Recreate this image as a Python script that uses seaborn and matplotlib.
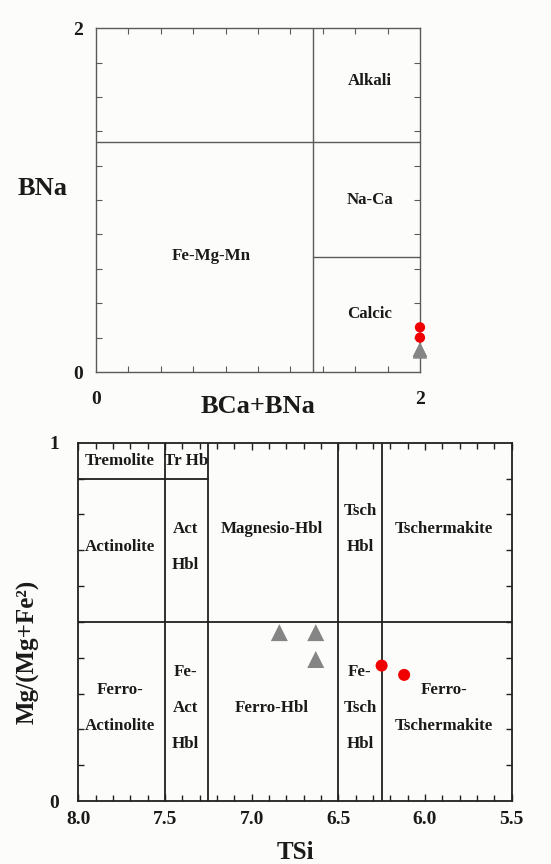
import numpy as np
import pandas as pd
import seaborn as sns
import matplotlib.pyplot as plt
from matplotlib.ticker import MultipleLocator, FixedLocator

sns.set_theme(style="white")
plt.rcParams['font.family'] = ['Liberation Serif', 'DejaVu Serif']
plt.rcParams['font.weight'] = 'bold'

# --- data: BNa vs BCa+BNa ---
top_circle_x = [2.0, 2.0]
top_circle_y = [0.26, 0.20]
top_tri_x = [2.0, 2.0, 2.0]
top_tri_y = [0.13, 0.13, 0.12]

# --- data: Mg/(Mg+Fe2) vs TSi ---
tri_tsi = [6.84, 6.63, 6.63]
tri_mg = [0.47, 0.47, 0.395]
circ_tsi = [6.25, 6.12]
circ_mg = [0.378, 0.352]

top_labels = ["Alkali", "Na-Ca", "Calcic", "Fe-Mg-Mn"]
top_label_x = [1.69, 1.69, 1.69, 0.71]
top_label_y = [1.69, 1.0, 0.34, 0.676]

# one entry per text line of the field names
bot_labels = ["Tremolite", "Tr Hb", "Actinolite", "Act", "Hbl", "Magnesio-Hbl", "Tsch", "Hbl",
              "Tschermakite", "Ferro-", "Actinolite", "Fe-", "Act", "Hbl", "Ferro-Hbl",
              "Fe-", "Tsch", "Hbl", "Ferro-", "Tschermakite"]
bot_label_x = [7.76, 7.38, 7.76, 7.38, 7.38, 6.885, 6.375, 6.375,
               5.89, 7.76, 7.76, 7.38, 7.38, 7.38, 6.885,
               6.375, 6.375, 6.375, 5.89, 5.89]
bot_label_y = [0.95, 0.95, 0.71, 0.76, 0.66, 0.76, 0.81, 0.71,
               0.76, 0.31, 0.21, 0.36, 0.26, 0.16, 0.26,
               0.36, 0.26, 0.16, 0.31, 0.21]

red = "#f00000"
grey = "#858585"
txt = "#1a1a1a"

fig = plt.figure(figsize=(5.51, 8.64), dpi=100)
fig.patch.set_facecolor("#fcfcfa")

# ---------------- top panel ----------------
ax1 = fig.add_axes([0.1742, 0.5694, 0.588, 0.398])
ax1.set_facecolor("#fcfcfa")
lc1 = "#5a5a5a"
ax1.plot([1.34, 1.34], [0, 2], color=lc1, lw=1.0)
ax1.plot([0, 2], [1.34, 1.34], color=lc1, lw=1.0)
ax1.plot([1.34, 2], [0.67, 0.67], color=lc1, lw=1.0)
sns.scatterplot(x=top_tri_x, y=top_tri_y, marker="^", s=110, color=grey,
                edgecolor="none", ax=ax1, zorder=5, clip_on=False)
sns.scatterplot(x=top_circle_x, y=top_circle_y, marker="o", s=55, color=red,
                edgecolor="none", ax=ax1, zorder=6, clip_on=False)
for lab, x, y in zip(top_labels, top_label_x, top_label_y):
    ax1.text(x, y, lab, ha="center", va="center", fontsize=12.2, fontweight="bold", color=txt)
ax1.set_xlim(0, 2)
ax1.set_ylim(0, 2)
ax1.xaxis.set_major_locator(FixedLocator([0, 2]))
ax1.yaxis.set_major_locator(FixedLocator([0, 2]))
ax1.xaxis.set_minor_locator(MultipleLocator(0.2))
ax1.yaxis.set_minor_locator(MultipleLocator(0.2))
ax1.tick_params(which="both", direction="in", top=True, right=True, bottom=True, left=True,
                color=lc1, width=0.8)
ax1.tick_params(which="major", length=0, labelsize=14, labelcolor=txt)
ax1.tick_params(axis="x", which="major", pad=14)
ax1.tick_params(axis="y", which="major", pad=9)
ax1.tick_params(which="minor", length=4)
for s in ax1.spines.values():
    s.set_color(lc1)
    s.set_linewidth(1.0)
ax1.set_xlabel("BCa+BNa", fontsize=19, fontweight="bold", color=txt, va="center")
ax1.set_ylabel("BNa", fontsize=19, fontweight="bold", color=txt, rotation=0,
               va="center", ha="center")
ax1.yaxis.set_label_coords(-0.165, 0.535)
ax1.xaxis.set_label_coords(0.5, -0.1)

# ---------------- bottom panel ----------------
ax2 = fig.add_axes([0.1421, 0.0729, 0.7864, 0.4147])
ax2.set_facecolor("#fcfcfa")
lc2 = "#202020"
for xv in [7.5, 7.25, 6.5, 6.25]:
    ax2.plot([xv, xv], [0, 1], color=lc2, lw=1.3)
ax2.plot([8.0, 5.5], [0.5, 0.5], color=lc2, lw=1.3)
ax2.plot([8.0, 7.25], [0.9, 0.9], color=lc2, lw=1.3)
sns.scatterplot(x=tri_tsi, y=tri_mg, marker="^", s=150, color=grey,
                edgecolor="none", ax=ax2, zorder=5)
sns.scatterplot(x=circ_tsi, y=circ_mg, marker="o", s=75, color=red,
                edgecolor="none", ax=ax2, zorder=6)
for lab, x, y in zip(bot_labels, bot_label_x, bot_label_y):
    ax2.text(x, y, lab, ha="center", va="center", fontsize=12.2, fontweight="bold", color=txt)
ax2.set_xlim(8.0, 5.5)
ax2.set_ylim(0, 1)
ax2.xaxis.set_major_locator(MultipleLocator(0.5))
ax2.xaxis.set_minor_locator(MultipleLocator(0.1))
ax2.yaxis.set_major_locator(FixedLocator([0, 1]))
ax2.yaxis.set_minor_locator(MultipleLocator(0.1))
ax2.set_xticklabels([f"{v:.1f}" for v in ax2.get_xticks()])
ax2.tick_params(which="both", direction="in", top=True, right=True, bottom=True, left=True,
                color=lc2, width=1.0)
ax2.tick_params(axis="x", which="major", length=5, labelsize=14, labelcolor=txt, pad=7)
ax2.tick_params(axis="y", which="major", length=0, labelsize=14, labelcolor=txt, pad=14)
ax2.tick_params(which="minor", length=4.5)
for s in ax2.spines.values():
    s.set_color(lc2)
    s.set_linewidth(1.3)
ax2.set_xlabel("TSi", fontsize=18, fontweight="bold", color=txt, va="center")
ax2.set_ylabel("Mg/(Mg+Fe²)", fontsize=18, fontweight="bold", color=txt,
               va="center", ha="center")
ax2.yaxis.set_label_coords(-0.115, 0.415)
ax2.xaxis.set_label_coords(0.5, -0.145)

fig.savefig("out.png", dpi=100, facecolor=fig.get_facecolor())
